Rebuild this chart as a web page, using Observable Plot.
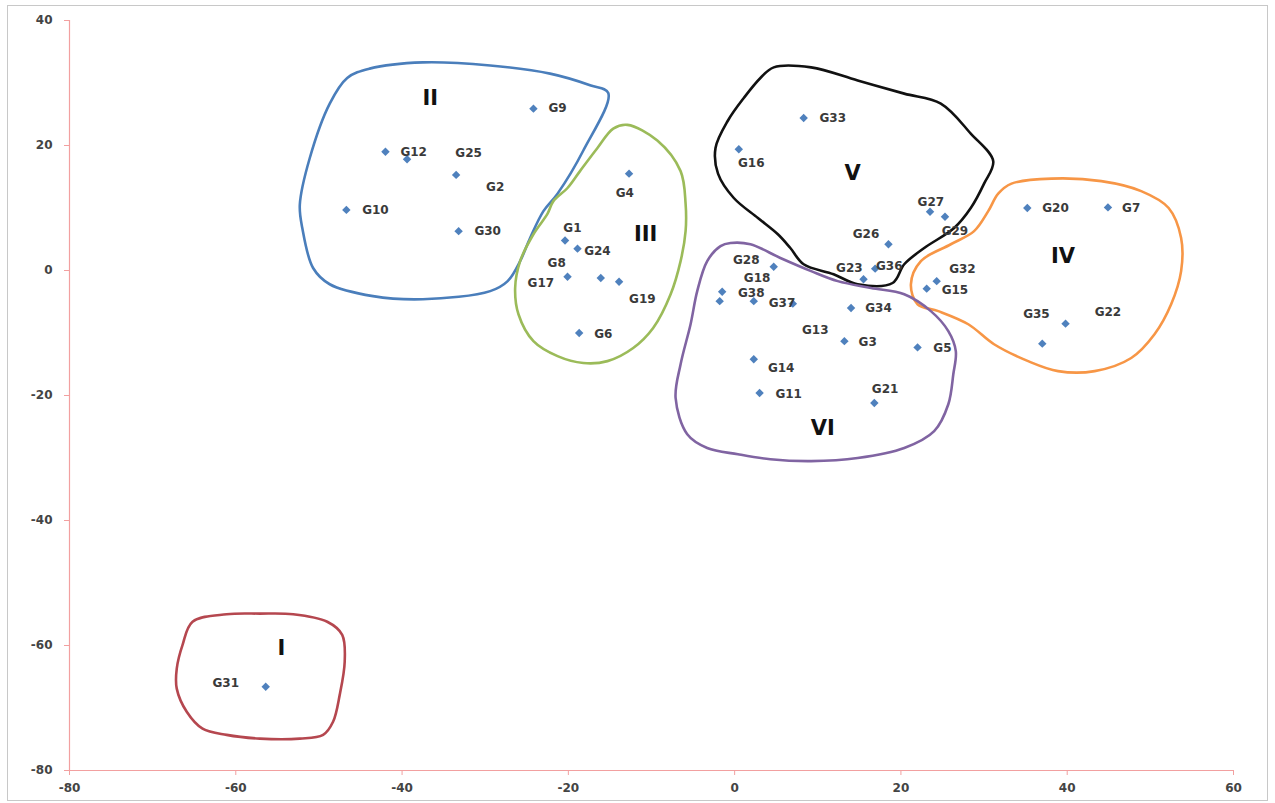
<!DOCTYPE html>
<html>
<head>
<meta charset="utf-8">
<script src="https://cdn.jsdelivr.net/npm/d3@7"></script>
<script src="https://cdn.jsdelivr.net/npm/@observablehq/plot@0.6"></script>
<style>
  html, body { margin: 0; padding: 0; background: #fff; }
  #wrap { position: relative; width: 1275px; height: 803px; }
  #border { position: absolute; left: 7px; top: 5px; width: 1259px; height: 794px; border: 1.5px solid #c8c8c8; pointer-events: none; }
</style>
</head>
<body>
<div id="wrap"><div id="border"></div></div>
<script>
// ---- Data ----
const genes  = ["G9","G12","G25","G2","G10","G30",
                "G4","G1","G24","G17","G8","G19","G6",
                "G33","G16","G27","G29","G26","G36","G23",
                "G20","G7","G32","G15","G22","G35",
                "G28","G18","G38","G37","G13","G34","G3","G5","G14","G11","G21",
                "G31"];
const geneX  = [-24.2,-42.0,-39.4,-33.5,-46.7,-33.2,
                -12.7,-20.4,-18.9,-20.1,-16.1,-13.9,-18.7,
                8.3,0.5,23.5,25.3,18.5,16.9,15.5,
                35.2,44.9,24.3,23.1,39.8,37.0,
                4.7,-1.5,-1.8,2.3,7.0,14.0,13.2,22.0,2.3,3.0,16.8,
                -56.4];
const geneY  = [25.9,19.0,17.8,15.3,9.7,6.3,
                15.5,4.8,3.5,-1.0,-1.2,-1.8,-10.0,
                24.4,19.4,9.4,8.6,4.2,0.3,-1.4,
                10.0,10.1,-1.7,-2.9,-8.5,-11.7,
                0.6,-3.4,-4.9,-4.9,-5.3,-6.0,-11.3,-12.3,-14.2,-19.6,-21.2,
                -66.6];
// where each gene's name is written (data units, left edge of text)
const labelX = [-22.4,-40.2,-33.6,-29.9,-44.8,-31.3,
                -14.3,-20.6,-18.1,-24.9,-22.5,-12.7,-16.9,
                10.2,0.4,22.0,24.9,14.2,17.0,12.2,
                37.0,46.6,25.8,24.9,43.3,34.7,
                -0.2,1.1,0.4,4.1,8.1,15.7,14.9,23.9,4.0,4.9,16.5,
                -62.8];
const labelY = [25.9,19.0,18.7,13.4,9.7,6.3,
                12.3,6.8,3.1,-2.0,1.2,-4.6,-10.2,
                24.3,17.2,11.0,6.3,5.8,0.7,0.4,
                9.9,10.0,0.2,-3.1,-6.7,-7.0,
                1.7,-1.2,-3.6,-5.2,-9.5,-6.0,-11.5,-12.4,-15.6,-19.8,-19.0,
                -66.1];

const clusterNames = ["I","II","III","IV","V","VI"];
const clusterX     = [-54.5,-36.6,-10.7,39.5,14.2,10.6];
const clusterY     = [-60.5,27.5,5.8,2.3,15.5,-25.2];

const outlineI   = [[-65.2,-56.2],[-61.1,-55.0],[-57.1,-54.9],[-53.1,-55.0],[-49.0,-56.2],[-47.2,-58.3],[-46.9,-62.6],[-47.5,-67.9],[-48.3,-72.2],[-49.5,-74.3],[-52.3,-74.9],[-57.1,-74.9],[-61.1,-74.3],[-64.0,-73.3],[-65.9,-70.6],[-67.1,-66.9],[-67.1,-63.7],[-66.4,-59.9]];
const outlineII  = [[-51.1,18.0],[-48.7,26.7],[-46.6,30.8],[-43.9,32.3],[-37.5,33.3],[-29.4,32.8],[-22.2,31.5],[-17.3,29.6],[-15.2,28.4],[-18.2,19.2],[-21.3,12.3],[-23.0,9.5],[-24.6,5.2],[-25.8,1.5],[-27.3,-1.7],[-29.4,-3.3],[-37.5,-4.6],[-43.5,-4.1],[-48.7,-2.2],[-50.7,0.4],[-52.0,6.8],[-52.3,10.5]];
const outlineIII = [[-12.9,23.3],[-9.3,20.8],[-6.5,15.9],[-5.9,10.7],[-5.9,6.3],[-6.5,1.5],[-7.7,-3.8],[-9.8,-9.2],[-12.2,-12.4],[-15.3,-14.5],[-18.2,-14.8],[-21.3,-13.7],[-24.2,-11.3],[-26.0,-7.0],[-26.4,-2.8],[-25.8,1.5],[-24.2,5.8],[-22.5,9.1],[-21.8,11.1],[-20.1,13.2],[-18.6,15.9],[-16.5,19.6],[-14.6,22.7]];
const outlineIV  = [[33.3,13.9],[38.1,14.7],[44.1,14.3],[48.9,12.7],[52.2,10.0],[53.7,5.2],[53.7,-0.1],[52.5,-5.4],[50.5,-10.2],[47.7,-14.0],[43.3,-16.1],[38.9,-16.1],[35.3,-14.5],[31.2,-11.8],[28.1,-8.6],[24.5,-6.5],[22.0,-5.4],[21.2,-2.2],[22.4,1.5],[26.0,4.2],[28.8,6.3],[30.5,9.5],[31.7,12.3]];
const outlineV   = [[4.7,32.5],[9.2,32.5],[14.8,30.4],[20.4,28.3],[24.8,26.7],[28.4,21.9],[31.1,17.5],[30.0,13.9],[28.4,10.0],[26.4,6.8],[22.8,3.6],[20.4,1.0],[19.0,-2.0],[14.8,-2.2],[11.9,-0.6],[8.3,1.0],[6.7,3.6],[5.2,5.8],[2.8,8.4],[-0.1,11.6],[-2.0,15.5],[-2.3,19.6],[-0.8,24.0],[1.1,27.6],[3.1,30.8]];
const outlineVI  = [[-0.5,4.4],[1.9,4.2],[5.5,2.0],[9.2,-0.1],[12.4,-1.7],[16.4,-2.8],[20.4,-3.8],[23.6,-6.5],[25.7,-9.7],[26.6,-12.9],[26.3,-16.6],[25.7,-21.4],[24.0,-25.7],[20.4,-28.4],[14.8,-30.0],[9.2,-30.5],[4.3,-30.2],[0.4,-29.4],[-3.3,-28.4],[-5.7,-26.2],[-7.1,-20.4],[-6.5,-15.0],[-5.3,-8.6],[-4.5,-3.3],[-3.3,1.5],[-1.7,3.9]];

const xTicks = [-80,-60,-40,-20,0,20,40,60];
const yTicks = [-80,-60,-40,-20,0,20,40];

// ---- Tables built from the arrays ----
const points = genes.map((g, i) => ({name: g, x: geneX[i], y: geneY[i], lx: labelX[i], ly: labelY[i]}));
const clusters = clusterNames.map((c, i) => ({name: c, x: clusterX[i], y: clusterY[i]}));
const outlines = [outlineI, outlineII, outlineIII, outlineIV, outlineV, outlineVI];
const outlineRows = outlines.flatMap((pts, i) => pts.map(([x, y]) => ({cluster: clusterNames[i], x, y})));

const axisColor = "#f2a0a0";
const textColor = "#3a3a3a";

const chart = Plot.plot({
  width: 1275,
  height: 803,
  marginLeft: 69,
  marginRight: 42,
  marginTop: 20,
  marginBottom: 33,
  style: {fontFamily: "'DejaVu Sans', sans-serif", fontSize: "12px", fontWeight: "bold", background: "transparent"},
  x: {domain: [-80, 60]},
  y: {domain: [-80, 40]},
  color: {domain: clusterNames, range: ["#b5474f", "#4a7ebb", "#9bbb59", "#f79646", "#111111", "#8064a2"]},
  marks: [
    Plot.ruleX([-80], {stroke: axisColor, strokeWidth: 1.2}),
    Plot.ruleY([-80], {stroke: axisColor, strokeWidth: 1.2}),
    Plot.axisY({ticks: yTicks, tickSize: 5, tickPadding: 12, stroke: axisColor, fill: "#444", label: null, tickFormat: d => String(d)}),
    Plot.axisX({ticks: xTicks, tickSize: 5, tickPadding: 8, stroke: axisColor, fill: "#444", label: null, tickFormat: d => String(d)}),
    Plot.line(outlineRows, {x: "x", y: "y", z: "cluster", stroke: "cluster", strokeWidth: 2.6, curve: "catmull-rom-closed"}),
    Plot.dot(points, {x: "x", y: "y", symbol: "diamond2", r: 3.8, fill: "#4f81bd"}),
    Plot.text(points, {x: "lx", y: "ly", text: "name", textAnchor: "start", fill: textColor, fontSize: 12, fontWeight: "bold"}),
    Plot.text(clusters, {x: "x", y: "y", text: "name", fill: "#111", fontSize: 21, fontWeight: "bold"})
  ]
});
document.getElementById("wrap").prepend(chart);
</script>
</body>
</html>
